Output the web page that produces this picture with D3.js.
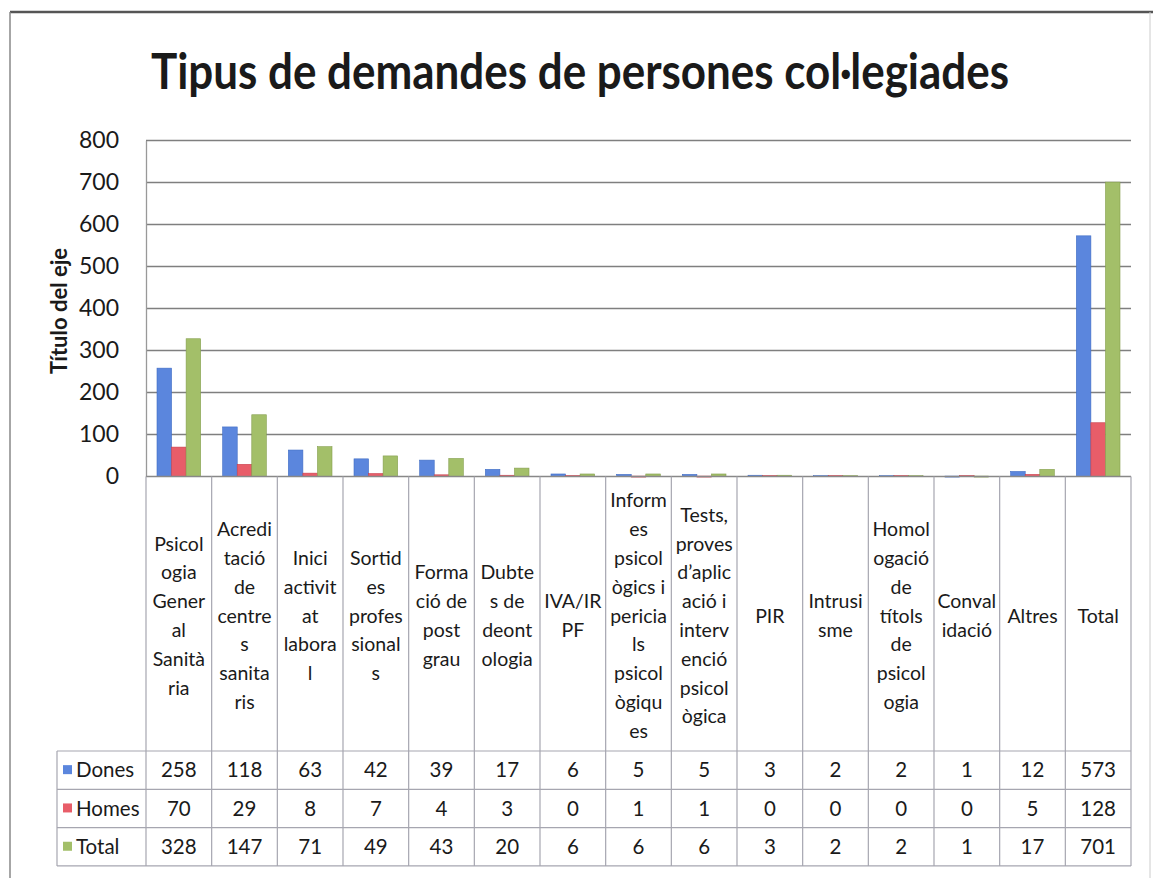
<!DOCTYPE html>
<html>
<head>
<meta charset="utf-8">
<script src="https://cdn.jsdelivr.net/npm/d3@7"></script>
<style>
  body { margin: 0; background: #fff; }
  text { font-family: Lato, "Open Sans", sans-serif; fill: #1a1a1a; }
</style>
</head>
<body>
<div id="chart"></div>
<script>
// dades
const categories = [
  "Psicologia General Sanitària", "Acreditació de centres sanitaris", "Inici activitat laboral",
  "Sortides professionals", "Formació de postgrau", "Dubtes de deontologia", "IVA/IRPF",
  "Informes psicològics i pericials psicològiques", "Tests, proves d’aplicació i intervenció psicològica",
  "PIR", "Intrusisme", "Homologació de títols de psicologia", "Convalidació", "Altres", "Total"
];
// com Excel talla les etiquetes dins la columna
const categoryLines = [
  ["Psicol", "ogia", "Gener", "al", "Sanità", "ria"],
  ["Acredi", "tació", "de", "centre", "s", "sanita", "ris"],
  ["Inici", "activit", "at", "labora", "l"],
  ["Sortid", "es", "profes", "sional", "s"],
  ["Forma", "ció de", "post", "grau"],
  ["Dubte", "s de", "deont", "ologia"],
  ["IVA/IR", "PF"],
  ["Inform", "es", "psicol", "ògics i", "pericia", "ls", "psicol", "ògiqu", "es"],
  ["Tests,", "proves", "d’aplic", "ació i", "interv", "enció", "psicol", "ògica"],
  ["PIR"],
  ["Intrusi", "sme"],
  ["Homol", "ogació", "de", "títols", "de", "psicol", "ogia"],
  ["Conval", "idació"],
  ["Altres"],
  ["Total"]
];
const seriesNames = ["Dones", "Homes", "Total"];
const dones = [258, 118, 63, 42, 39, 17, 6, 5, 5, 3, 2, 2, 1, 12, 573];
const homes = [70, 29, 8, 7, 4, 3, 0, 1, 1, 0, 0, 0, 0, 5, 128];
const total = [328, 147, 71, 49, 43, 20, 6, 6, 6, 3, 2, 2, 1, 17, 701];
const yTicks = [0, 100, 200, 300, 400, 500, 600, 700, 800];

const title = "Tipus de demandes de persones col·legiades";
const yTitle = "Título del eje";

const width = 1153, height = 878;
const colors = {Dones: "#5b86dd", Homes: "#e85d69", Total: "#a3bf69"};
const strokes = {Dones: "#3f6cc4", Homes: "#c8404c", Total: "#859f4e"};

const values = {Dones: dones, Homes: homes, Total: total};

// geometria
const plotLeft = 146, plotRight = 1131;
const plotTop = 140.5, plotBottom = 476.5;
const tableTop = 751, rowH = 38.3;
const legendLeft = 57;

const svg = d3.select("#chart").append("svg")
    .attr("width", width)
    .attr("height", height)
    .attr("viewBox", [0, 0, width, height]);

svg.append("rect").attr("width", width).attr("height", height).attr("fill", "#fff");

// marc exterior
svg.append("line").attr("x1", 10).attr("x2", 1153).attr("y1", 12).attr("y2", 12)
    .attr("stroke", "#555").attr("stroke-width", 2.5);
svg.append("line").attr("x1", 10).attr("x2", 10).attr("y1", 12).attr("y2", height)
    .attr("stroke", "#888").attr("stroke-width", 1.5);
svg.append("line").attr("x1", 1150).attr("x2", 1150).attr("y1", 12).attr("y2", height)
    .attr("stroke", "#ccc").attr("stroke-width", 1);

// títol
svg.append("text")
    .attr("x", 580).attr("y", 89)
    .attr("text-anchor", "middle")
    .attr("font-size", 50)
    .attr("font-weight", "bold")
    .attr("textLength", 858)
    .attr("lengthAdjust", "spacingAndGlyphs")
    .text(title);

// escales
const x0 = d3.scaleBand().domain(categories).range([plotLeft, plotRight]);
const x1 = d3.scaleBand().domain(seriesNames).range([11, x0.bandwidth() - 11]);
const y = d3.scaleLinear().domain([0, 800]).range([plotBottom, plotTop]);

// línies de graella
svg.append("g")
    .selectAll("line")
    .data(yTicks.filter(d => d > 0))
    .join("line")
    .attr("x1", plotLeft).attr("x2", plotRight)
    .attr("y1", d => y(d)).attr("y2", d => y(d))
    .attr("stroke", "#7f7f7f").attr("stroke-width", 1.4);

// eix Y
const yAxis = svg.append("g")
    .attr("transform", `translate(${plotLeft},0)`)
    .call(d3.axisLeft(y).tickValues(yTicks).tickSize(0).tickPadding(27));
yAxis.select(".domain").attr("stroke", "#999").attr("stroke-width", 1.3);
yAxis.selectAll("text")
    .attr("font-size", 23)
    .attr("font-family", "Lato, sans-serif")
    .attr("fill", "#1a1a1a");

svg.append("text")
    .attr("transform", `translate(67,311) rotate(-90)`)
    .attr("text-anchor", "middle")
    .attr("font-size", 22)
    .attr("font-weight", "bold")
    .text(yTitle);

// barres
const rows = categories.map((c, i) => ({cat: c, i}));
const groups = svg.append("g")
    .selectAll("g")
    .data(rows)
    .join("g")
    .attr("transform", d => `translate(${x0(d.cat)},0)`);

groups.selectAll("rect")
    .data(d => seriesNames.map(s => ({s, v: values[s][d.i]})))
    .join("rect")
    .attr("x", d => x1(d.s))
    .attr("width", x1.bandwidth())
    .attr("y", d => y(d.v) - (d.v === 0 ? 1 : 0))
    .attr("height", d => Math.max(1, plotBottom - y(d.v)))
    .attr("fill", d => colors[d.s])
    .attr("stroke", d => strokes[d.s])
    .attr("stroke-width", 0.6);

// eix X (línia base)
svg.append("line")
    .attr("x1", plotLeft).attr("x2", plotRight)
    .attr("y1", plotBottom).attr("y2", plotBottom)
    .attr("stroke", "#888").attr("stroke-width", 1.5);

// taula de dades
const tableBottom = tableTop + rowH * 3;
const grid = svg.append("g").attr("stroke", "#a6a6b0").attr("stroke-width", 1.2);

const bounds = categories.map(c => x0(c)).concat([plotRight]);
grid.selectAll("line.v")
    .data(bounds)
    .join("line")
    .attr("class", "v")
    .attr("x1", d => d).attr("x2", d => d)
    .attr("y1", plotBottom).attr("y2", tableBottom);

grid.append("line")
    .attr("x1", legendLeft).attr("x2", legendLeft)
    .attr("y1", tableTop).attr("y2", tableBottom);

grid.selectAll("line.h")
    .data(d3.range(4))
    .join("line")
    .attr("class", "h")
    .attr("x1", legendLeft).attr("x2", plotRight)
    .attr("y1", d => tableTop + d * rowH).attr("y2", d => tableTop + d * rowH);

// etiquetes de categoria
const lineH = 28.8;
const labelMid = (plotBottom + tableTop) / 2 + 2;
svg.append("g")
    .selectAll("text")
    .data(rows)
    .join("text")
    .attr("text-anchor", "middle")
    .attr("font-size", 19.5)
    .each(function (d) {
        const lines = categoryLines[d.i];
        const t = d3.select(this);
        const cx = x0(d.cat) + x0.bandwidth() / 2;
        const y0 = labelMid - (lines.length - 1) * lineH / 2;
        lines.forEach((l, k) => {
            t.append("tspan")
                .attr("x", cx)
                .attr("y", y0 + k * lineH)
                .attr("dy", "0.35em")
                .text(l);
        });
    });

// files de valors
seriesNames.forEach((s, r) => {
    const cy = tableTop + r * rowH + rowH / 2;
    svg.append("rect")
        .attr("x", 63).attr("y", cy - 5)
        .attr("width", 9).attr("height", 9)
        .attr("fill", colors[s]);
    svg.append("text")
        .attr("x", 76).attr("y", cy)
        .attr("dy", "0.35em")
        .attr("font-size", 20.5)
        .text(s);
    svg.append("g")
        .selectAll("text")
        .data(values[s])
        .join("text")
        .attr("x", (d, i) => x0(categories[i]) + x0.bandwidth() / 2)
        .attr("y", cy)
        .attr("dy", "0.35em")
        .attr("text-anchor", "middle")
        .attr("font-size", 20.5)
        .text(d => d);
});
</script>
</body>
</html>
